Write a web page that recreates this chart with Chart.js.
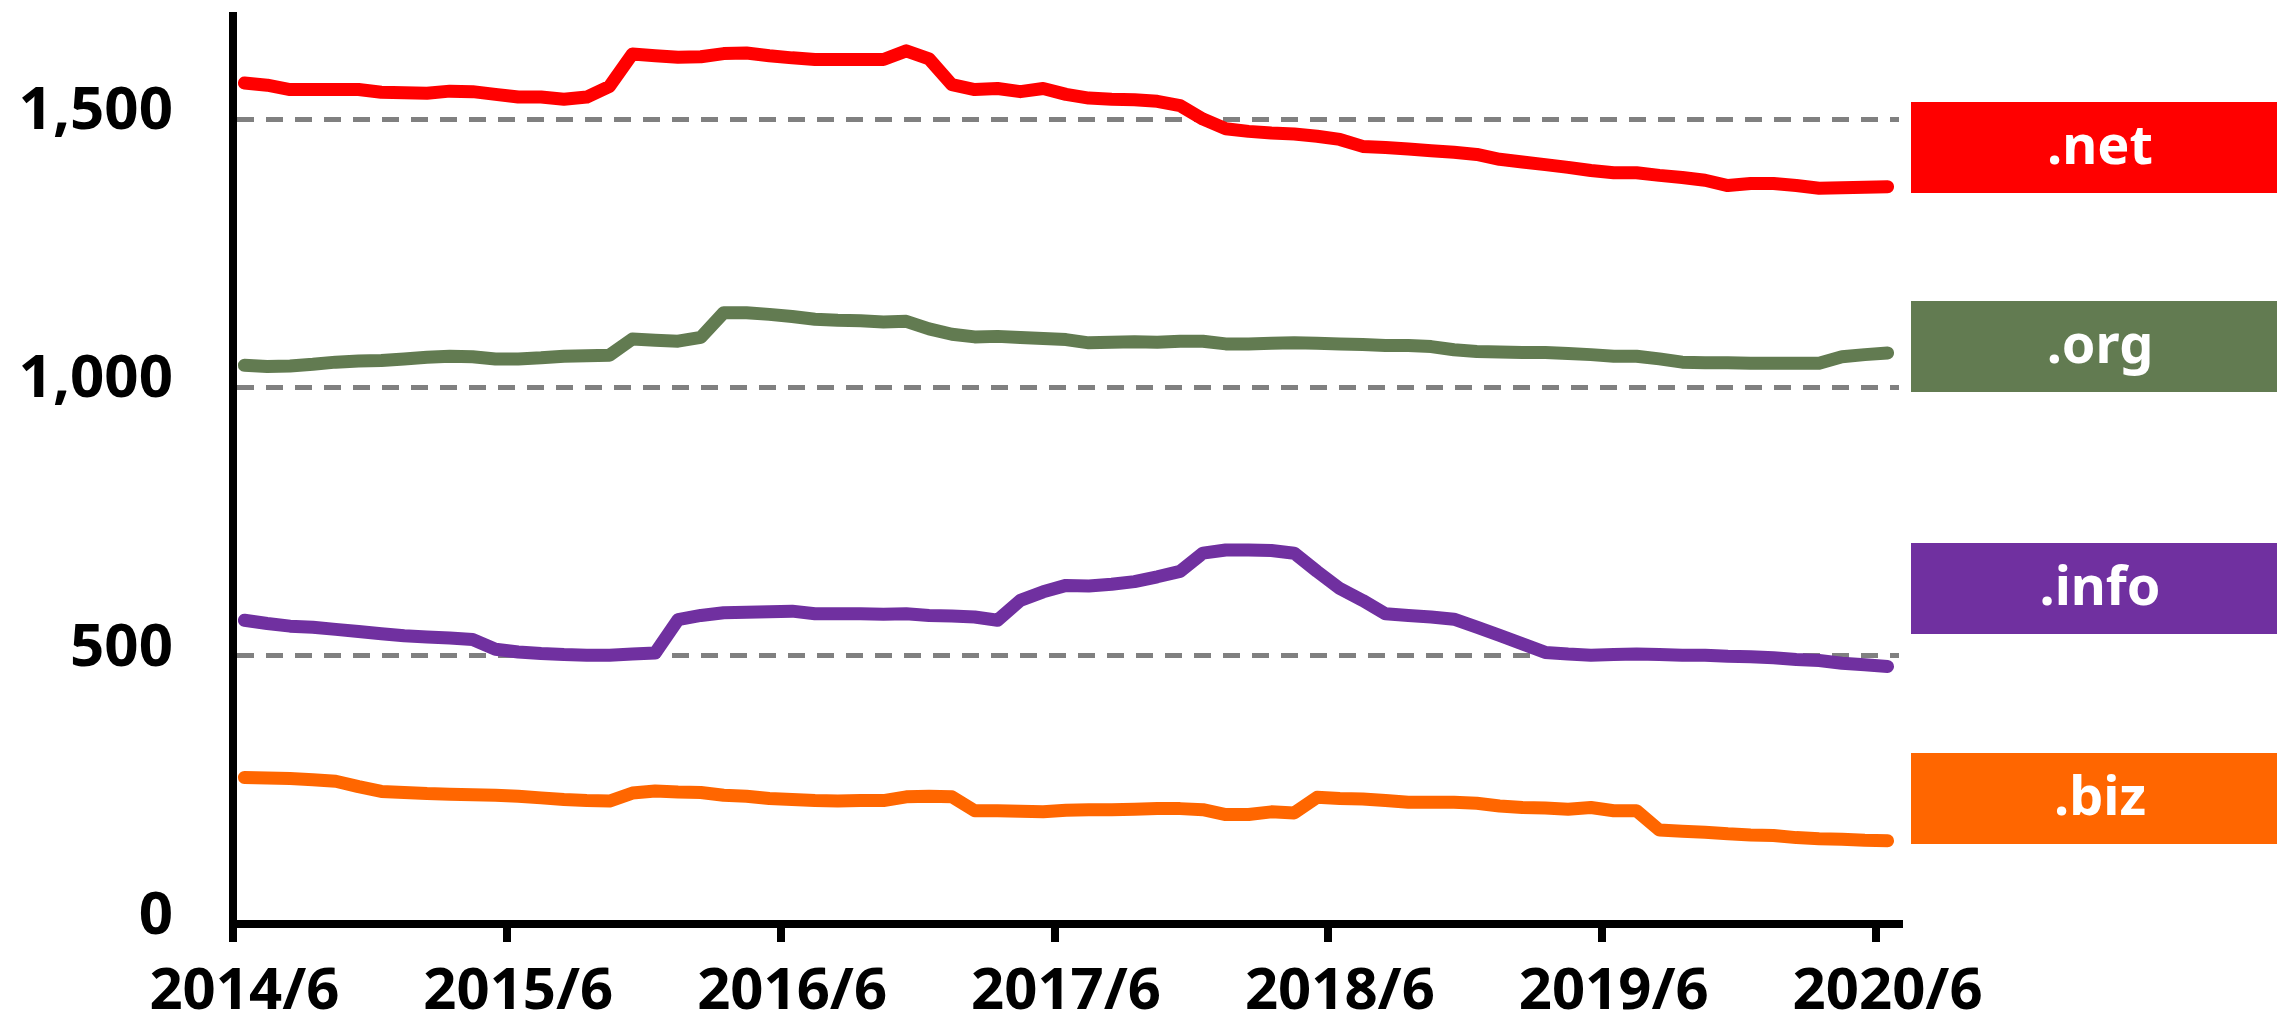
<!DOCTYPE html>
<html>
<head>
<meta charset="utf-8">
<script src="https://cdn.jsdelivr.net/npm/chart.js@4.4.1/dist/chart.umd.min.js"></script>
<style>
html,body{margin:0;padding:0;background:#ffffff;}
#wrap{position:relative;width:2277px;height:1018px;overflow:hidden;background:#fff;}
#c{position:absolute;left:0;top:0;}
.tag{position:absolute;left:1911px;width:366px;height:91px;color:#fff;font-family:"Noto Sans",sans-serif;font-weight:bold;font-size:54px;display:flex;align-items:center;justify-content:center;box-sizing:border-box;padding-left:12px;padding-bottom:9px;line-height:1;}
</style>
</head>
<body>
<div id="wrap">
<canvas id="c" width="2277" height="1018"></canvas>
<div class="tag" id="tag0"></div>
<div class="tag" id="tag1"></div>
<div class="tag" id="tag2"></div>
<div class="tag" id="tag3"></div>
</div>
<script>
// ---- data ----
const tickLabels = ["2014/6","2015/6","2016/6","2017/6","2018/6","2019/6","2020/6"];
const yTickValues = [0, 500, 1000, 1500];
const seriesNames = [".net", ".org", ".info", ".biz"];
const seriesColors = ["#FF0000", "#627B51", "#7030A0", "#FF6600"];

// months 2014/6 .. 2020/6 (categories)
const months = [];
for (let y = 2014, m = 6; months.length < 73; ) {
  months.push(y + "/" + m);
  m++; if (m > 12) { m = 1; y++; }
}

const netValues = [1567,1563,1555,1555,1555,1555,1550,1549,1548,1552,1551,1546,1541,1541,1537,1541,1561,1621,1618,1615,1616,1622,1623,1618,1614,1611,1611,1611,1611,1627,1612,1564,1555,1557,1551,1557,1546,1539,
  1537,1536,1533,1525,1500,1482,1477,1474,1472,1468,1462,1449,1447,1444,1441,1438,1434,1425,1420,1415,1410,1404,1400,1400,1395,1391,1386,1376,1380,1380,1376,1371,1372,1373,1374];
const orgValues = [1041,1039,1040,1043,1047,1049,1050,1053,1056,1058,1057,1053,1053,1055,1058,1059,1060,1090,1088,1086,1093,1139,1139,
  1136,1132,1127,1125,1124,1122,1123,1109,1099,1094,1095,1093,1091,1089,1083,1084,1085,1084,1086,1086,1081,1081,1082,1083,1082,1081,1080,1078,1078,1076,1070,
  1067,1066,1065,1065,1063,1061,1058,1058,1053,1047,1046,1046,1045,1045,1045,1045,1057,1061,1064];
const infoValues = [566,560,555,553,549,545,541,537,535,533,530,512,507,504,502,501,501,503,505,567,575,
  580,581,582,583,578,578,578,577,578,575,574,572,566,603,619,631,630,633,638,647,657,691,697,697,696,691,657,625,603,578,
  575,572,568,553,538,522,506,503,501,502,503,502,501,501,499,498,496,493,491,486,483,480];
const bizValues = [273,272,271,269,266,256,247,245,243,242,241,240,238,235,232,230,229,244,248,246,245,240,238,
  234,232,230,229,230,230,237,238,237,211,211,210,209,212,213,213,214,215,215,213,204,204,
  209,207,236,234,233,230,227,227,227,225,220,217,216,214,217,211,211,175,173,171,168,166,165,161,159,158,156,155];

const yMin = 0, yMax = 1692;

// ---- tags ----
const tagTops = [102, 301, 543, 753];
seriesNames.forEach((n, i) => {
  const el = document.getElementById('tag' + i);
  el.textContent = n;
  el.style.background = seriesColors[i];
  el.style.top = tagTops[i] + 'px';
});

// ---- chart ----
Chart.defaults.font.family = '"Noto Sans", sans-serif';
const allValues = [netValues, orgValues, infoValues, bizValues];
const datasets = allValues.map((vals, i) => ({
  label: seriesNames[i],
  data: vals,
  borderColor: seriesColors[i],
  backgroundColor: seriesColors[i],
  borderWidth: 13,
  pointRadius: 0,
  pointHoverRadius: 0,
  tension: 0,
  fill: false,
  borderCapStyle: 'round',
  borderJoinStyle: 'round'
}));

new Chart(document.getElementById('c'), {
  type: 'line',
  data: { labels: months, datasets: datasets },
  options: {
    responsive: false,
    animation: false,
    devicePixelRatio: 1,
    layout: { padding: { left: 0, top: 16, right: 378, bottom: 0 } },
    plugins: { legend: { display: false }, tooltip: { enabled: false } },
    scales: {
      x: {
        type: 'category',
        offset: true,
        grid: {
          offset: true,
          drawOnChartArea: false,
          drawTicks: true,
          tickLength: 18,
          lineWidth: 8,
          tickWidth: 8,
          tickColor: (ctx) => (ctx.index !== undefined && ctx.index % 12 === 0) ? '#000000' : 'rgba(0,0,0,0)',
          color: 'rgba(0,0,0,0)'
        },
        border: { display: true, color: '#000000', width: 8 },
        ticks: {
          autoSkip: false,
          maxRotation: 0,
          minRotation: 0,
          padding: 16,
          color: '#000000',
          font: { size: 58, weight: 'bold' },
          callback: (val, idx) => (idx % 12 === 0 ? tickLabels[idx / 12] : '')
        },
        afterFit: (s) => { s.height = 94; s.paddingLeft = 0; s.paddingRight = 0; }
      },
      y: {
        min: yMin,
        max: yMax,
        grid: {
          drawTicks: false,
          lineWidth: 5,
          color: (ctx) => (ctx.tick && ctx.tick.value === 0) ? 'rgba(0,0,0,0)' : '#808080'
        },
        border: { display: true, color: '#000000', width: 8, dash: [17, 12] },
        ticks: {
          padding: 60,
          labelOffset: -7,
          color: '#000000',
          font: { size: 60, weight: 'bold' },
          callback: (v) => v.toLocaleString('en-US')
        },
        afterBuildTicks: (s) => { s.ticks = yTickValues.map((v) => ({ value: v })); },
        afterFit: (s) => { s.width = 233; s.paddingTop = 0; s.paddingBottom = 0; }
      }
    }
  }
});
</script>
</body>
</html>
